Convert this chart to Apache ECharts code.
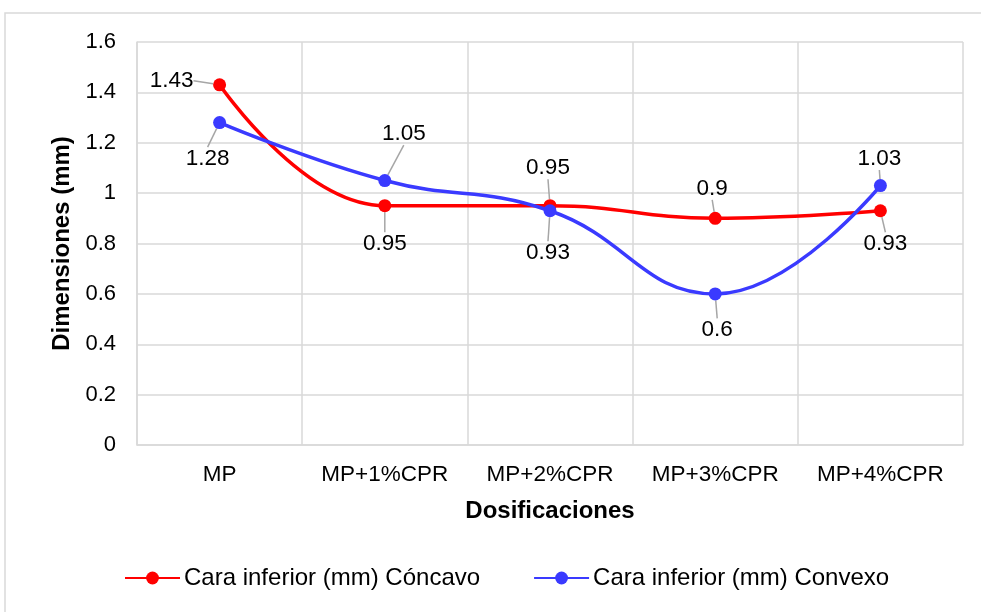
<!DOCTYPE html>
<html>
<head>
<meta charset="utf-8">
<script src="https://cdn.jsdelivr.net/npm/echarts@6/dist/echarts.min.js"></script>
<style>
  html, body { margin: 0; padding: 0; background: #fff; }
  #chart { width: 981px; height: 612px; }
</style>
</head>
<body>
<div id="chart"></div>
<script>
let categories = ["MP", "MP+1%CPR", "MP+2%CPR", "MP+3%CPR", "MP+4%CPR"];
let concavo = [1.43, 0.95, 0.95, 0.9, 0.93];
let convexo = [1.28, 1.05, 0.93, 0.6, 1.03];

// label offsets (px) from each point, like the excel labels
let concavoOffsets = [[-48, -4], [0, 38], [-2, -38], [-3, -30], [5, 33]];
let convexoOffsets = [[-12, 36], [19, -47], [-2, 42], [2, 36], [-1, -27]];

let chart = echarts.init(document.getElementById("chart"));

function labelStyle() {
  return {
    show: true,
    position: "inside",
    color: "#000",
    fontSize: 22.5,
    fontFamily: "Liberation Sans",
  };
}

var option = {
  textStyle: { fontFamily: "Liberation Sans" },
  graphic: [
    {
      type: "rect",
      shape: { x: 5, y: 13, width: 990, height: 620 },
      style: { fill: "none", stroke: "#d9d9d9", lineWidth: 1.5 },
      silent: true,
    },
  ],
  grid: {
    left: 137,
    right: 18,
    top: 42,
    bottom: 167,
  },
  legend: {
    bottom: 17,
    left: 119,
    itemWidth: 55,
    itemHeight: 16,
    itemGap: 53,
    textStyle: { fontSize: 24, color: "#000", fontFamily: "Liberation Sans", padding: [0, 0, 0, -1] },
    data: ["Cara inferior (mm) Cóncavo", "Cara inferior (mm) Convexo"],
  },
  xAxis: {
    type: "category",
    data: categories,
    name: "Dosificaciones",
    nameLocation: "middle",
    nameGap: 54,
    nameTextStyle: { fontSize: 24, fontWeight: "bold", color: "#000" },
    axisLine: { lineStyle: { color: "#d9d9d9", width: 1.5 } },
    axisTick: { show: false },
    axisLabel: { fontSize: 22.5, color: "#000", margin: 18, interval: 0 },
    splitLine: { show: true, interval: 0, lineStyle: { color: "#d9d9d9", width: 1.5 } },
  },
  yAxis: {
    type: "value",
    min: 0,
    max: 1.6,
    interval: 0.2,
    name: "Dimensiones (mm)",
    nameLocation: "middle",
    nameGap: 63,
    nameTextStyle: { fontSize: 24, fontWeight: "bold", color: "#000" },
    axisLine: { show: true, lineStyle: { color: "#d9d9d9", width: 1.5 } },
    axisTick: { show: false },
    axisLabel: { fontSize: 22, color: "#000", margin: 21 },
    splitLine: { lineStyle: { color: "#d9d9d9", width: 1.5 } },
  },
  series: [
    {
      name: "Cara inferior (mm) Cóncavo",
      type: "line",
      data: concavo,
      smooth: 0.45,
      color: "#ff0000",
      symbol: "circle",
      symbolSize: 13,
      lineStyle: { width: 3.5 },
      label: labelStyle(),
      labelLine: { show: true, lineStyle: { color: "#a6a6a6", width: 1.5 } },
      labelLayout: function (p) {
        return { dx: concavoOffsets[p.dataIndex][0], dy: concavoOffsets[p.dataIndex][1] };
      },
      z: 2,
    },
    {
      name: "Cara inferior (mm) Convexo",
      type: "line",
      data: convexo,
      smooth: 0.45,
      color: "#3a3aff",
      symbol: "circle",
      symbolSize: 13,
      lineStyle: { width: 3.5 },
      label: labelStyle(),
      labelLine: { show: true, lineStyle: { color: "#a6a6a6", width: 1.5 } },
      labelLayout: function (p) {
        return { dx: convexoOffsets[p.dataIndex][0], dy: convexoOffsets[p.dataIndex][1] };
      },
      z: 3,
    },
  ],
};

chart.setOption(option);

window.onresize = function () {
  chart.resize();
};
</script>
</body>
</html>
